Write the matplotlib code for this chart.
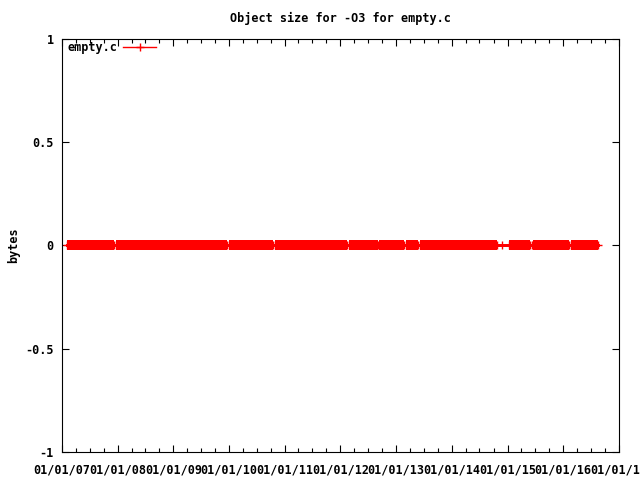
import matplotlib
matplotlib.use("Agg")
import matplotlib.pyplot as plt
import matplotlib.dates as mdates
from datetime import datetime

# dense runs of samples (start, end) - all at 0 bytes
run_starts = ["2007-02-04", "2007-12-22", "2009-12-28", "2010-10-26", "2012-02-23",
              "2012-09-10", "2013-03-03", "2013-06-03", "2015-01-10", "2015-06-20",
              "2016-02-24"]
run_ends = ["2007-12-10", "2009-12-16", "2010-10-16", "2012-02-14", "2012-09-01",
            "2013-02-21", "2013-05-23", "2014-10-27", "2015-05-27", "2016-02-07",
            "2016-08-19"]
# isolated samples between runs
single_dates = ["2014-11-24", "2015-06-09"]
run_value = 0
single_value = 0

RED = "#ff0000"
FONT = {"family": "DejaVu Sans Mono", "weight": "bold", "size": 8.5}

def d(s):
    return datetime.strptime(s, "%Y-%m-%d")

starts = [d(s) for s in run_starts]
ends = [d(s) for s in run_ends]
singles = [d(s) for s in single_dates]

fig = plt.figure(figsize=(6.4, 4.8), dpi=100)
ax = fig.add_axes([62 / 640, 1 - 452 / 480, (619 - 62) / 640, (452 - 39) / 480])

# all sample points in time order, joined by a thin line
pts = sorted(starts + ends + singles)
ax.plot(pts, [run_value] * len(pts), color=RED, lw=1, marker="+", ms=6, mew=1,
        label="empty.c", zorder=3, antialiased=False)
# dense runs appear as a solid band of overlapping markers
for s, e in zip(starts, ends):
    ax.plot([s, e], [run_value, run_value], color=RED, lw=6,
            solid_capstyle="butt", zorder=2, antialiased=False)

ax.set_xlim(datetime(2007, 1, 1), datetime(2017, 1, 1))
ax.set_ylim(-1, 1)
ax.xaxis.set_major_locator(mdates.YearLocator())
ax.xaxis.set_major_formatter(mdates.DateFormatter("%m/%d/%y"))
ax.xaxis.set_minor_locator(mdates.MonthLocator(bymonth=[4, 7, 10]))
ax.set_yticks([-1, -0.5, 0, 0.5, 1])
ax.set_yticklabels(["-1", "-0.5", "0", "0.5", "1"])

ax.tick_params(which="both", direction="in", top=True, right=True, width=0.8, color="black")
ax.tick_params(which="major", length=5)
ax.tick_params(which="minor", length=3)
ax.tick_params(axis="x", pad=8)
ax.tick_params(axis="y", pad=6)
for lab in ax.get_xticklabels() + ax.get_yticklabels():
    lab.set_fontfamily(FONT["family"])
    lab.set_fontweight(FONT["weight"])
    lab.set_fontsize(FONT["size"])
for sp in ax.spines.values():
    sp.set_linewidth(0.8)

ax.set_title("Object size for -O3 for empty.c", fontdict=FONT, pad=12)
ax.set_ylabel("bytes", fontdict=FONT)
ax.yaxis.set_label_coords(-0.075, 0.5)

leg = ax.legend(loc="upper left", bbox_to_anchor=(0.01, 0.995), frameon=False,
                markerfirst=False, numpoints=1, handlelength=2.8, handletextpad=0.5,
                borderaxespad=0, borderpad=0,
                prop={"family": FONT["family"], "weight": "bold", "size": FONT["size"]})

fig.savefig("out.png", dpi=100, facecolor="#ffffff")
